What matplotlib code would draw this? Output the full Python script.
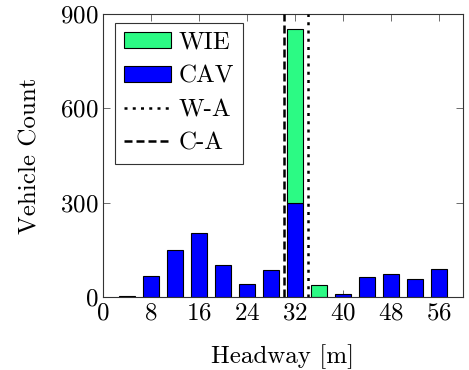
import matplotlib
matplotlib.use("Agg")
import matplotlib.pyplot as plt
import numpy as np

plt.rcParams['font.family'] = ['cmr10', 'DejaVu Serif']
plt.rcParams['mathtext.fontset'] = 'cm'
plt.rcParams['axes.formatter.use_mathtext'] = True

headway = [4, 8, 12, 16, 20, 24, 28, 32, 36, 40, 44, 48, 52, 56]
cav = [3, 66, 151, 205, 102, 43, 85, 300, 0, 10, 65, 73, 56, 90]
wie = [0, 0, 0, 0, 0, 0, 0, 553, 37, 0, 0, 0, 0, 0]
wa_line = 34.1
ca_line = 30.2
xticks = [0, 8, 16, 24, 32, 40, 48, 56]
yticks = [0, 300, 600, 900]

fig = plt.figure(figsize=(4.69, 3.70), dpi=100)
ax = fig.add_axes([0.2196, 0.197, 0.7676, 0.765])

blue = '#0000FF'
green = '#2CFA84'
w = 2.8
cav_arr = np.array(cav)
wie_arr = np.array(wie)
mask_c = cav_arr > 0
ax.bar(np.array(headway)[mask_c], cav_arr[mask_c], width=w, color=blue,
       edgecolor='black', linewidth=0.8, label='CAV', zorder=2)
mask_w = wie_arr > 0
ax.bar(np.array(headway)[mask_w], wie_arr[mask_w], width=w, bottom=cav_arr[mask_w],
       color=green, edgecolor='black', linewidth=0.8, label='WIE', zorder=2)

ax.axvline(wa_line, color='black', linestyle=(0, (1.2, 2.1)), linewidth=1.8, label='W-A', zorder=3)
ax.axvline(ca_line, color='black', linestyle=(0, (3.2, 1.6)), linewidth=1.8, label='C-A', zorder=3)

ax.set_xlim(0, 60)
ax.set_ylim(0, 900)
ax.set_xticks(xticks)
ax.set_yticks(yticks)
ax.tick_params(direction='in', top=True, right=True, labelsize=18, length=5,
               width=0.6, color='#555555')
ax.tick_params(axis='x', pad=4)
ax.tick_params(axis='y', pad=3)
for s in ax.spines.values():
    s.set_linewidth(0.8)
    s.set_color('#333333')

ax.set_xlabel('Headway [m]', fontsize=18, labelpad=14)
ax.set_ylabel('Vehicle Count', fontsize=18, labelpad=13.5)

handles, labels = ax.get_legend_handles_labels()
order = [labels.index(l) for l in ['WIE', 'CAV', 'W-A', 'C-A']]
leg = ax.legend([handles[i] for i in order], [labels[i] for i in order],
                loc='upper left', bbox_to_anchor=(0.033, 0.968), fontsize=18,
                fancybox=False, framealpha=1, edgecolor='#333333',
                handlelength=1.9, handleheight=0.6, labelspacing=0.46,
                borderpad=0.35, handletextpad=0.3, borderaxespad=0)
leg.get_frame().set_linewidth(0.8)

fig.savefig('out.png', dpi=100)
